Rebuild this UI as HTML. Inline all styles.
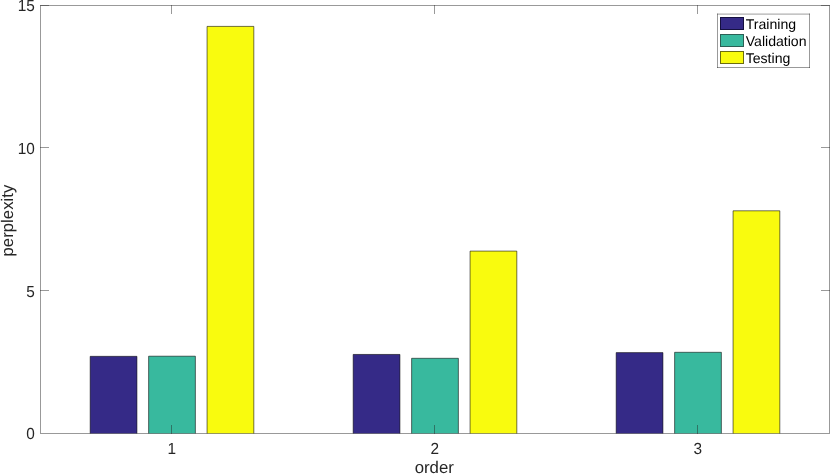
<!DOCTYPE html>
<html><head><meta charset="utf-8"><title>perplexity vs order</title>
<style>
html,body{margin:0;padding:0;background:#fff;}
body{width:830px;height:474px;overflow:hidden;}
svg{display:block;}
text{text-rendering:geometricPrecision;font-family:"Liberation Sans",Arial,Helvetica,sans-serif;fill:#262626;}
.tk{font-size:16.0px;}
.lb{font-size:16.8px;}
.lg{font-size:14.1px;fill:#000;}
</style></head><body>
<svg width="830" height="474" viewBox="0 0 830 474">
<rect x="0" y="0" width="830" height="474" fill="#fff"/>
<rect x="90.18" y="356.35" width="46.76" height="77.15" fill="#352a87"/>
<path d="M90.18 433.5V356.35H136.93V433.5" fill="none" stroke="#000" stroke-opacity="0.8" stroke-width="0.7"/>
<rect x="148.62" y="356.2" width="46.76" height="77.30" fill="#38b99e"/>
<path d="M148.62 433.5V356.2H195.38V433.5" fill="none" stroke="#000" stroke-opacity="0.8" stroke-width="0.7"/>
<rect x="207.07" y="26.4" width="46.76" height="407.10" fill="#f9fb0e"/>
<path d="M207.07 433.5V26.4H253.82V433.5" fill="none" stroke="#000" stroke-opacity="0.8" stroke-width="0.7"/>
<rect x="353.18" y="354.45" width="46.76" height="79.05" fill="#352a87"/>
<path d="M353.18 433.5V354.45H399.93V433.5" fill="none" stroke="#000" stroke-opacity="0.8" stroke-width="0.7"/>
<rect x="411.62" y="358.3" width="46.76" height="75.20" fill="#38b99e"/>
<path d="M411.62 433.5V358.3H458.38V433.5" fill="none" stroke="#000" stroke-opacity="0.8" stroke-width="0.7"/>
<rect x="470.07" y="251.1" width="46.76" height="182.40" fill="#f9fb0e"/>
<path d="M470.07 433.5V251.1H516.82V433.5" fill="none" stroke="#000" stroke-opacity="0.8" stroke-width="0.7"/>
<rect x="616.18" y="352.6" width="46.76" height="80.90" fill="#352a87"/>
<path d="M616.18 433.5V352.6H662.93V433.5" fill="none" stroke="#000" stroke-opacity="0.8" stroke-width="0.7"/>
<rect x="674.62" y="352.3" width="46.76" height="81.20" fill="#38b99e"/>
<path d="M674.62 433.5V352.3H721.38V433.5" fill="none" stroke="#000" stroke-opacity="0.8" stroke-width="0.7"/>
<rect x="733.07" y="210.8" width="46.76" height="222.70" fill="#f9fb0e"/>
<path d="M733.07 433.5V210.8H779.82V433.5" fill="none" stroke="#000" stroke-opacity="0.8" stroke-width="0.7"/>
<g stroke="#262626" stroke-opacity="0.47" stroke-width="1" fill="none" shape-rendering="crispEdges">
<rect x="40.5" y="5.5" width="789.0" height="428.0"/>
<line x1="171.5" y1="434.0" x2="171.5" y2="425.0"/>
<line x1="171.5" y1="5.0" x2="171.5" y2="14.0"/>
<line x1="434.5" y1="434.0" x2="434.5" y2="425.0"/>
<line x1="434.5" y1="5.0" x2="434.5" y2="14.0"/>
<line x1="697.5" y1="434.0" x2="697.5" y2="425.0"/>
<line x1="697.5" y1="5.0" x2="697.5" y2="14.0"/>
<line x1="40.0" y1="290.5" x2="49.0" y2="290.5"/>
<line x1="830.0" y1="290.5" x2="821.0" y2="290.5"/>
<line x1="40.0" y1="147.5" x2="49.0" y2="147.5"/>
<line x1="830.0" y1="147.5" x2="821.0" y2="147.5"/>
<line x1="40.0" y1="5.5" x2="49.0" y2="5.5"/>
<line x1="830.0" y1="5.5" x2="821.0" y2="5.5"/>
</g>
<text class="tk" transform="translate(34.9,439.0) scale(0.96,1)" text-anchor="end">0</text>
<text class="tk" transform="translate(34.9,296.6) scale(0.96,1)" text-anchor="end">5</text>
<text class="tk" transform="translate(34.9,153.6) scale(0.96,1)" text-anchor="end">10</text>
<text class="tk" transform="translate(34.9,11.0) scale(0.96,1)" text-anchor="end">15</text>
<text class="tk" transform="translate(171.8,453.5) scale(0.96,1)" text-anchor="middle">1</text>
<text class="tk" transform="translate(434.8,453.5) scale(0.96,1)" text-anchor="middle">2</text>
<text class="tk" transform="translate(697.8,453.5) scale(0.96,1)" text-anchor="middle">3</text>
<text class="lb" x="434.3" y="473" text-anchor="middle">order</text>
<text class="lb" transform="translate(12.8,220.6) rotate(-90)" text-anchor="middle">perplexity</text>
<rect x="717" y="14" width="93" height="54" fill="#fff"/>
<g stroke="#262626" stroke-opacity="0.47" stroke-width="1" fill="none">
<line x1="717.5" y1="13.6" x2="717.5" y2="68"/>
<line x1="809.5" y1="13.6" x2="809.5" y2="68"/>
<line x1="717" y1="67.5" x2="810" y2="67.5"/>
<line x1="717" y1="14.1" x2="810" y2="14.1" stroke-opacity="0.45"/>
</g>
<rect x="720.5" y="17.5" width="23" height="12" fill="#352a87" stroke="#15103f" stroke-width="1"/>
<text class="lg" x="745.7" y="29.0">Training</text>
<rect x="720.5" y="34.5" width="23" height="12" fill="#38b99e" stroke="#2c5f55" stroke-width="1"/>
<text class="lg" x="745.7" y="45.9">Validation</text>
<rect x="720.5" y="51.5" width="23" height="12" fill="#f9fb0e" stroke="#6b6c10" stroke-width="1"/>
<text class="lg" x="745.7" y="62.8">Testing</text>
</svg>
</body></html>
